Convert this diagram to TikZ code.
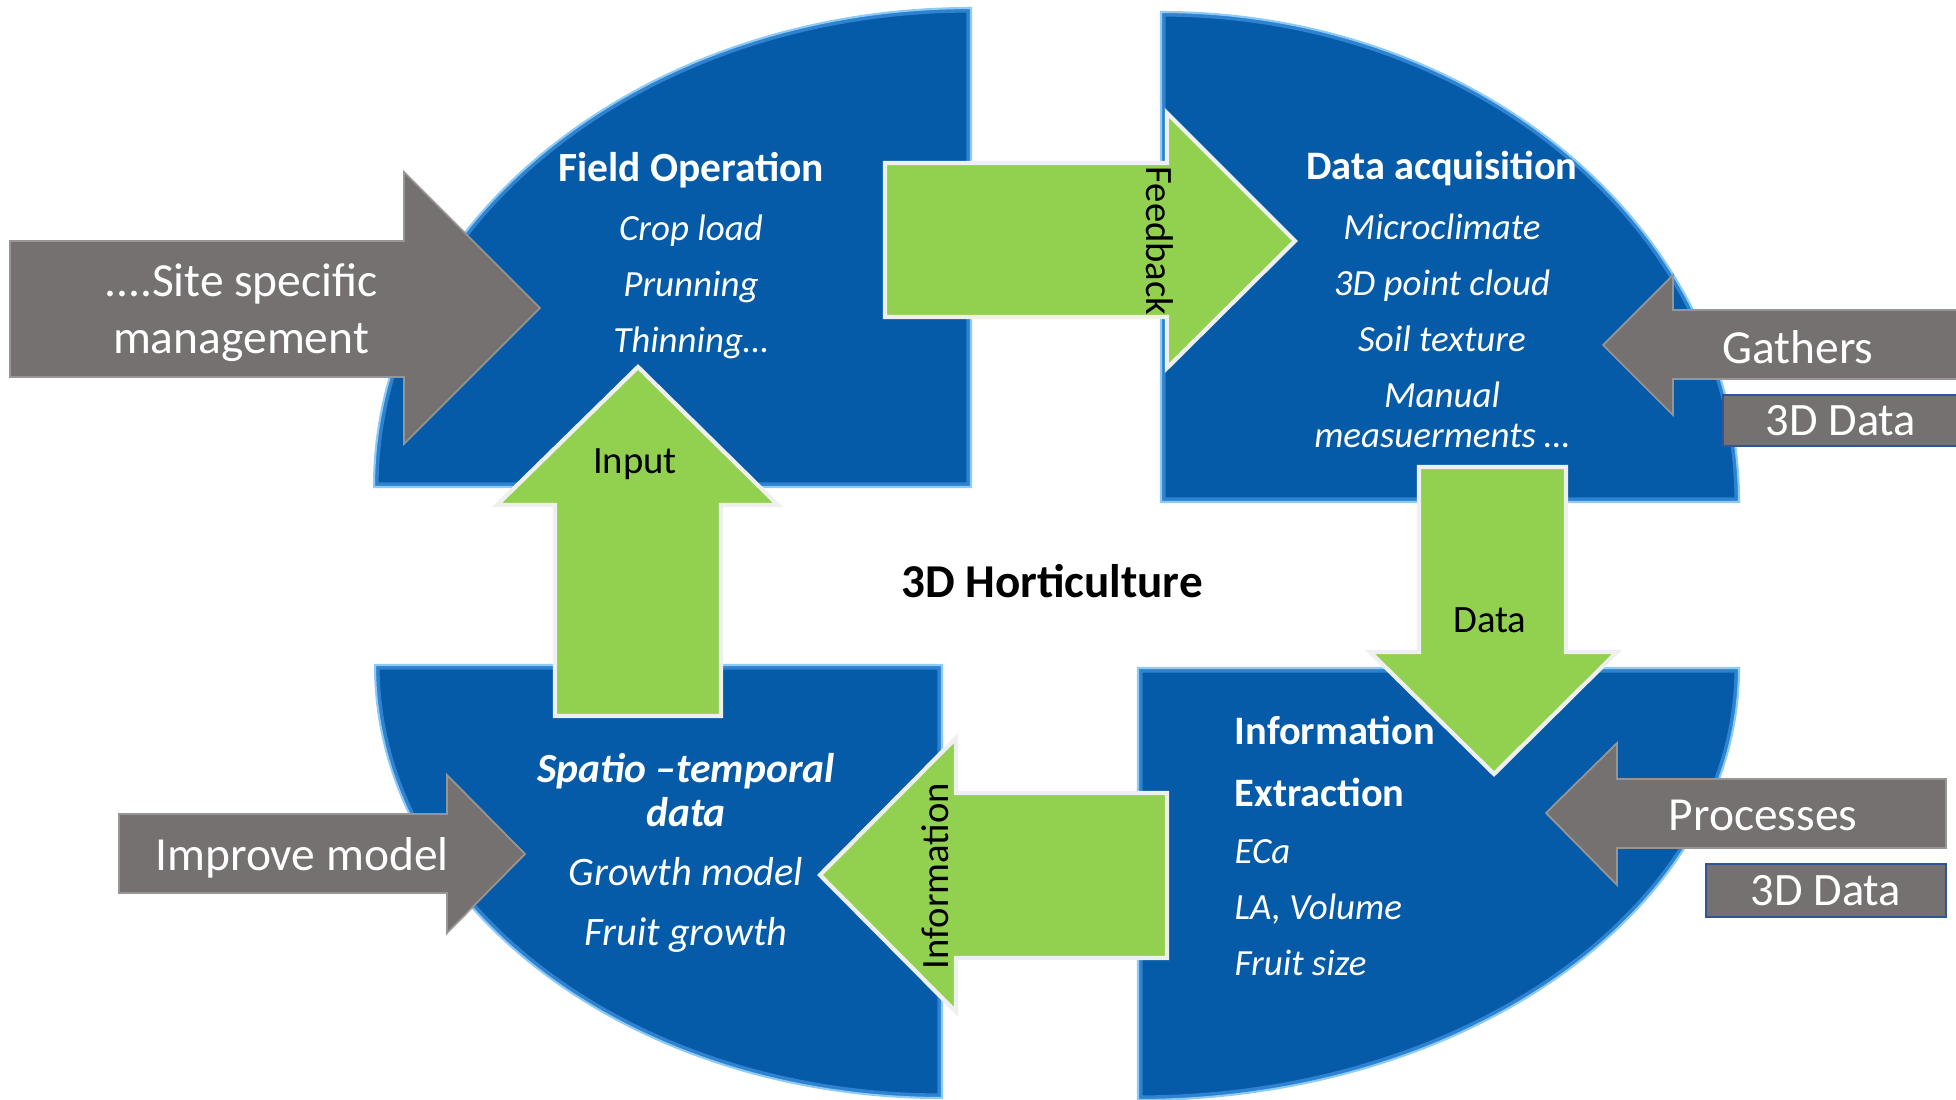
\documentclass[tikz,border=0pt]{standalone}
\usepackage{fontspec}
\setmainfont{Carlito}
\usepackage{tikz}

\definecolor{quadblue}{HTML}{055BA7}
\definecolor{quadband}{HTML}{2E82D0}
\definecolor{quadedge}{HTML}{8CCBF7}
\definecolor{leafgreen}{HTML}{92D050}
\definecolor{greenrim}{HTML}{EFEFEF}
\definecolor{slate}{HTML}{767171}
\definecolor{boxrim}{HTML}{2F5597}

% quarter ellipses (pixel units, y downwards)
\newcommand{\fieldquad}{(971,487) -- (374,487)
  arc[start angle=180, end angle=270, x radius=597, y radius=479] -- cycle}
\newcommand{\acqquad}{(1161,502) -- (1161,12)
  arc[start angle=270, end angle=360, x radius=578, y radius=490] -- cycle}
\newcommand{\spatioquad}{(942,665) -- (375,665)
  arc[start angle=180, end angle=90, x radius=567, y radius=433] -- cycle}
\newcommand{\extrquad}{(1138,668) -- (1739,668)
  arc[start angle=0, end angle=90, x radius=601, y radius=432] -- cycle}

\begin{document}
\begin{tikzpicture}[
  x=0.01cm, y=-0.01cm,
  every node/.style={inner sep=0pt},
  quad/.style={fill=quadblue},
  band/.style={draw=quadband, line width=2.6pt},
  rim/.style={draw=quadedge, line width=0.6pt},
  gr/.style={fill=leafgreen, draw=greenrim, line width=1.2pt, line join=miter},
  gy/.style={fill=slate, draw=slate!75!white, line width=0.5pt},
  title/.style={text=white, align=center, font=\fontsize{11.8}{12.5}\selectfont\bfseries},
  items/.style={text=white, align=center, font=\fontsize{10.5}{15.9}\selectfont\itshape},
  lbl/.style={text=black, font=\fontsize{11}{13}\selectfont},
  glbl/.style={text=white, align=center, font=\fontsize{13.5}{16.2}\selectfont},
  databox/.style={rectangle, fill=slate, draw=boxrim, line width=0.8pt,
                  text=white, font=\fontsize{13.2}{15}\selectfont}
]
\useasboundingbox (0,0) rectangle (1956,1100);

% the four quarter ellipses with a bevelled rim
\foreach \q in {\fieldquad, \acqquad, \spatioquad, \extrquad} {
  \path[quad] \q;
  \begin{scope}
    \clip \q;
    \path[band] \q;
  \end{scope}
  \path[rim] \q;
}

% grey block arrows from outside
\path[gy] (10,241) -- (404,241) -- (404,172) -- (540,308) -- (404,444)
  -- (404,377) -- (10,377) -- cycle;
\path[gy] (119,814) -- (447,814) -- (447,775) -- (525,854) -- (447,933)
  -- (447,893) -- (119,893) -- cycle;
\path[gy] (1960,310) -- (1673,310) -- (1673,275) -- (1603,345) -- (1673,415)
  -- (1673,379) -- (1960,379) -- cycle;
\path[gy] (1946,779) -- (1617,779) -- (1617,743) -- (1546,813) -- (1617,885)
  -- (1617,848) -- (1946,848) -- cycle;

% green cycle arrows
\path[gr] (885,163) -- (1167,163) -- (1167,113) -- (1295,241) -- (1167,368)
  -- (1167,317) -- (885,317) -- cycle;
\path[gr] (1419,467) -- (1566,467) -- (1566,652) -- (1617,652) -- (1494,774)
  -- (1370,652) -- (1419,652) -- cycle;
\path[gr] (1167,793) -- (1167,958) -- (956,958) -- (956,1012) -- (820,875)
  -- (956,738) -- (956,793) -- cycle;
\path[gr] (555,716) -- (555,505) -- (497,505) -- (638,367) -- (778,505)
  -- (721,505) -- (721,716) -- cycle;

% quadrant texts
\node[title] (fieldtitle) at (691,170) {Field Operation};
\node[items] (fielditems) at (691,287) {Crop load\\Prunning\\Thinning…};

\node[title, font=\fontsize{11.5}{12.5}\selectfont\bfseries] (acqtitle) at (1442,168)
  {Data acquisition};
\node[items, font=\fontsize{10.5}{11.4}\selectfont\itshape] (acqitems) at (1442,331)
  {Microclimate\\[4.55pt]3D point cloud\\[4.55pt]Soil texture\\[4.55pt]Manual\\measuerments …};

\node[title, font=\fontsize{11.8}{12.5}\selectfont\bfseries\itshape] (spatiotitle)
  at (686,790) {Spatio –temporal\\data};
\node[items, font=\fontsize{11.5}{17}\selectfont\itshape] (spatioitems) at (686,905)
  {Growth model\\Fruit growth};

\node[title, align=left, anchor=west, font=\fontsize{11.5}{17.6}\selectfont\bfseries]
  (extrtitle) at (1234,761) {Information\\Extraction};
\node[items, align=left, anchor=west] (extritems) at (1234,908)
  {ECa\\LA, Volume\\Fruit size};

\node[font=\fontsize{13.4}{15}\selectfont\bfseries] (horti) at (1052,581) {3D Horticulture};

% arrow labels
\node[lbl, rotate=-90] (feedbacklbl) at (1160,241) {Feedback};
\node[lbl] (datalbl) at (1490,620) {Data};
\node[lbl, rotate=90] (infolbl) at (935,876) {Information};
\node[lbl] (inputlbl) at (635,464) {Input};

\node[glbl] (sitelbl) at (241,313) {....Site specific\\management};
\node[glbl] (improvelbl) at (302,858) {Improve model};
\node[glbl] (gatherslbl) at (1798,347) {Gathers};
\node[glbl] (processlbl) at (1763,815) {Processes};

\node[databox, minimum width=2.36cm, minimum height=0.51cm] (gathersdata)
  at (1841,420.5) {3D Data};
\node[databox, minimum width=2.40cm, minimum height=0.53cm] (processdata)
  at (1826,890.5) {3D Data};
\end{tikzpicture}
\end{document}
